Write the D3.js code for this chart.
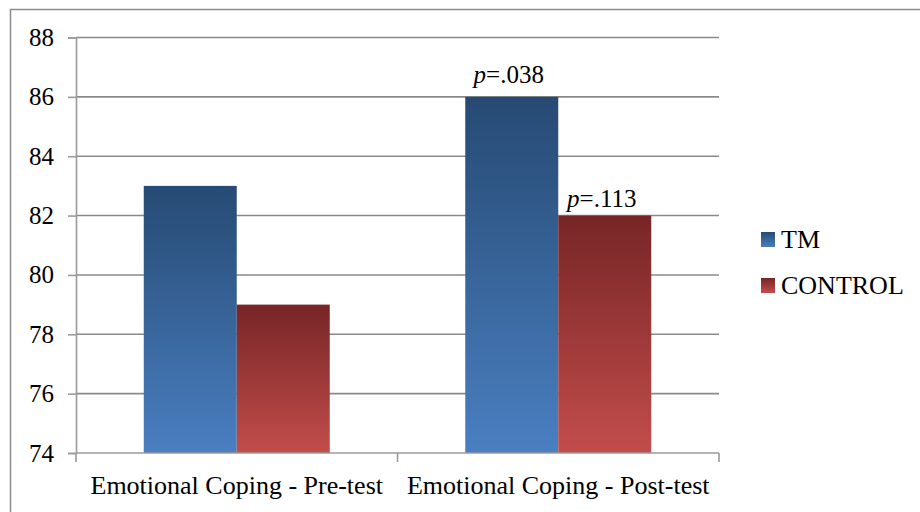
<!DOCTYPE html>
<html><head><meta charset="utf-8">
<script src="https://cdn.jsdelivr.net/npm/d3@7"></script>
<style>body{margin:0;background:#fff;} svg{display:block;} svg text{font-family:"Liberation Serif","Times New Roman",serif !important;}</style>
</head><body>
<svg id="c" width="920" height="512"></svg>
<script>
const categories = ["Emotional Coping - Pre-test", "Emotional Coping - Post-test"];
const seriesNames = ["TM", "CONTROL"];
const tmValues = [83, 86];
const controlValues = [79, 82];
const pLabelsTM = ["", "=.038"];
const pLabelsControl = ["", "=.113"];
const yTicks = [74, 76, 78, 80, 82, 84, 86, 88];

const FS = 25;
const svg = d3.select("#c");
const margin = {left: 76, right: 201, top: 37.5, bottom: 59};
const W = 920, H = 512;
const x0 = d3.scaleBand().domain(categories).range([margin.left, W - margin.right]).paddingInner(0).paddingOuter(0);
const x1 = d3.scaleBand().domain(seriesNames).range([0, 186]);
const y = d3.scaleLinear().domain([74, 88]).range([H - margin.bottom, margin.top]);

const defs = svg.append("defs");
const grads = [
  {id: "gTM", top: "#264a73", bottom: "#4a7fc1"},
  {id: "gCT", top: "#772526", bottom: "#c24d4b"}
];
grads.forEach(g => {
  const lg = defs.append("linearGradient").attr("id", g.id).attr("x1", 0).attr("y1", 0).attr("x2", 0).attr("y2", 1);
  lg.append("stop").attr("offset", "0%").attr("stop-color", g.top);
  lg.append("stop").attr("offset", "100%").attr("stop-color", g.bottom);
});

// outer border
svg.append("path").attr("d", "M10.5,520 L10.5,9.5 L930,9.5").attr("fill", "none").attr("stroke", "#8c8c8c").attr("stroke-width", 1.5);

// gridlines
svg.append("g").selectAll("line").data(yTicks.slice(1)).join("line")
  .attr("x1", margin.left).attr("x2", W - margin.right)
  .attr("y1", d => y(d)).attr("y2", d => y(d))
  .attr("stroke", "#8a8a8a").attr("stroke-width", 1.6);

// y axis
const yAxis = d3.axisLeft(y).tickValues(yTicks).tickSize(8).tickPadding(14).tickFormat(d3.format("d"));
const gy = svg.append("g").attr("transform", `translate(${margin.left},0)`).call(yAxis);
gy.select(".domain").attr("stroke", "#9a9a9a").attr("stroke-width", 1.6);
gy.selectAll(".tick line").attr("stroke", "#9a9a9a").attr("stroke-width", 1.6);
gy.selectAll("text").style("font-size", FS + "px").attr("fill", "#000");

// bars
const groups = svg.append("g").selectAll("g").data(categories).join("g")
  .attr("transform", d => `translate(${x0(d) + (x0.bandwidth() - 186) / 2},0)`);
const pOffsets = [14, 9];
groups.each(function(cat, i) {
  const g = d3.select(this);
  const vals = [tmValues[i], controlValues[i]];
  g.selectAll("rect").data(seriesNames).join("rect")
    .attr("x", s => x1(s)).attr("width", x1.bandwidth())
    .attr("y", (s, j) => y(vals[j])).attr("height", (s, j) => y(74) - y(vals[j]))
    .attr("fill", (s, j) => j === 0 ? "url(#gTM)" : "url(#gCT)");
  const labs = [pLabelsTM[i], pLabelsControl[i]];
  labs.forEach((l, j) => {
    if (!l) return;
    const t = g.append("text").attr("x", x1(seriesNames[j]) + x1.bandwidth() / 2 - 3).attr("y", y(vals[j]) - pOffsets[j])
      .attr("text-anchor", "middle").style("font-size", FS + "px").attr("fill", "#000");
    t.append("tspan").attr("font-style", "italic").text("p");
    t.append("tspan").text(l);
  });
});

// x axis
const xAxis = d3.axisBottom(x0).tickSize(0).tickPadding(23);
const gx = svg.append("g").attr("transform", `translate(0,${y(74)})`).call(xAxis);
gx.select(".domain").remove();
gx.append("line").attr("x1", margin.left).attr("x2", W - margin.right).attr("stroke", "#9a9a9a").attr("stroke-width", 1.6);
[margin.left, x0(categories[1]), W - margin.right].forEach(xx => {
  gx.append("line").attr("x1", xx).attr("x2", xx).attr("y1", 0).attr("y2", 9).attr("stroke", "#9a9a9a").attr("stroke-width", 1.6);
});
gx.selectAll(".tick text").style("font-size", "26px").attr("fill", "#000");

// legend
const leg = svg.append("g").attr("transform", "translate(761,232)");
seriesNames.forEach((s, i) => {
  const row = leg.append("g").attr("transform", `translate(0,${i * 46})`);
  row.append("rect").attr("width", 14).attr("height", 15).attr("fill", i === 0 ? "url(#gTM)" : "url(#gCT)");
  row.append("text").attr("x", 20).attr("y", 16).style("font-size", "26px").attr("fill", "#000").text(s);
});
</script>
</body></html>
